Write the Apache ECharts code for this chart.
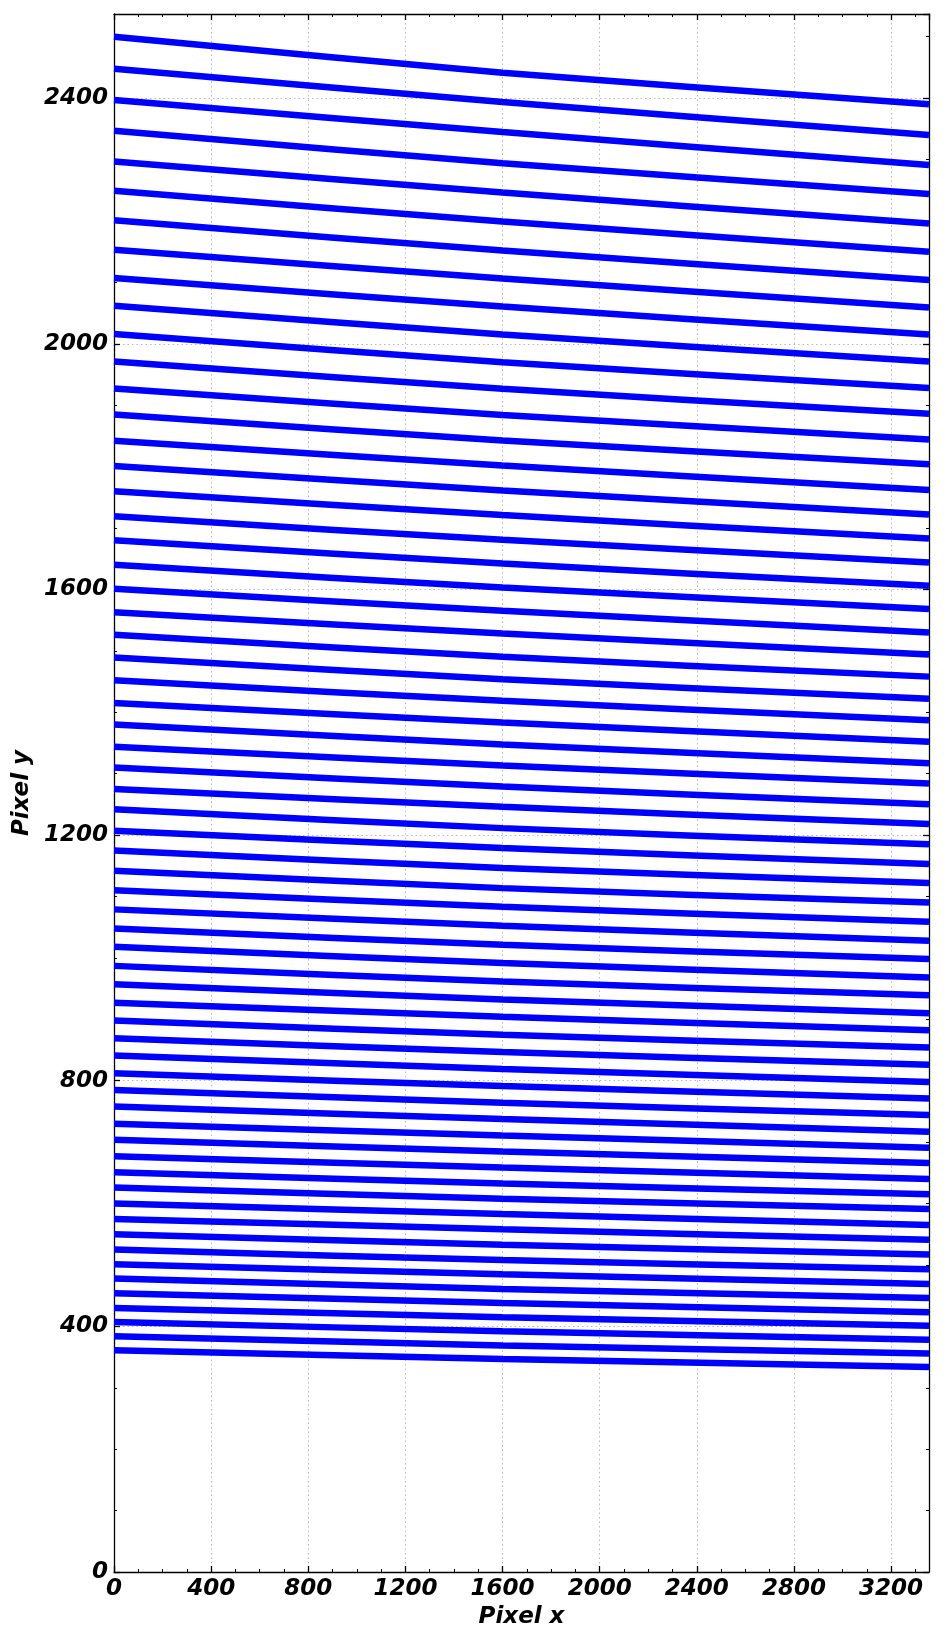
<!DOCTYPE html>
<html>
<head>
<meta charset="utf-8">
<script src="https://cdn.jsdelivr.net/npm/echarts@6/dist/echarts.min.js"></script>
<style>
html,body{margin:0;padding:0;background:#fff;}
#chart{width:944px;height:1638px;}
</style>
</head>
<body>
<div id="chart"></div>
<script>
// x positions (pixel x) at which each trace was read
const traceX = [0, 1600, 3356];
// y at x = 0
const traceStart = [2500, 2448, 2397, 2347, 2297, 2249, 2201, 2153, 2107, 2062, 2016, 1971, 1927, 1885, 1842, 1801, 1760, 1719, 1680, 1640, 1601, 1563, 1526, 1489, 1452, 1415, 1380, 1344, 1310, 1275, 1242, 1207, 1175, 1142, 1110, 1079, 1048, 1018, 987, 957, 927, 898, 869, 841, 812, 785, 758, 730, 704, 677, 651, 626, 600, 575, 550, 525, 501, 478, 454, 430, 407, 384, 361];
// y at x = 1600
const traceMid = [2441.5, 2393.8, 2345, 2294, 2246.2, 2199, 2151.8, 2106.2, 2060.6, 2015, 1970, 1926.6, 1884.2, 1842.4, 1801.7, 1761, 1721, 1680.7, 1642.1, 1603.1, 1565.1, 1528.2, 1490.2, 1453.9, 1418.6, 1383.3, 1347.4, 1313.2, 1279.1, 1246, 1211.3, 1178.8, 1146.2, 1113.6, 1083.2, 1052.3, 1021.3, 991.5, 961.6, 932.3, 904.1, 874.8, 846.6, 819, 791.3, 764.1, 737.5, 710.8, 684.8, 658.7, 632.7, 607.8, 582.9, 558, 533, 508, 485, 461, 438, 415, 392, 369, 347];
// y at x = 3356
const traceEnd = [2390, 2340, 2291, 2244, 2196, 2150, 2104, 2059, 2015, 1971, 1928, 1886, 1844, 1804, 1762, 1722, 1683, 1644, 1606, 1568, 1530, 1494, 1458, 1422, 1387, 1352, 1317, 1284, 1250, 1218, 1185, 1153, 1122, 1090, 1059, 1028, 998, 968, 939, 910, 882, 854, 826, 798, 771, 744, 717, 691, 666, 640, 615, 591, 565, 541, 517, 493, 469, 446, 423, 401, 378, 356, 334];

const xTickLabels = ['0', '400', '800', '1200', '1600', '2000', '2400', '2800', '3200'];
const yTickLabels = ['0', '400', '800', '1200', '1600', '2000', '2400'];
const xLabelName = 'Pixel x';
const yLabelName = 'Pixel y';
const xMax = 3356;
const yMax = 2537;

const font = {fontFamily: 'DejaVu Sans', fontWeight: 'bold', fontStyle: 'italic', fontSize: 23, color: '#000'};

function majorAxis(pos, max, isMain, labels) {
  return {
    type: 'value', position: pos, min: 0, max: max, interval: 400,
    axisLine: {show: true, onZero: false, lineStyle: {color: '#000', width: 1.3}},
    axisTick: {show: true, inside: true, length: 6, lineStyle: {color: '#000', width: 1.3}},
    axisLabel: isMain ? Object.assign({
      show: true, margin: 6, showMaxLabel: false,
      formatter: function (v) { const s = String(Math.round(v)); return labels.indexOf(s) >= 0 ? s : ''; }
    }, font) : {show: false},
    splitLine: isMain ? {show: true, lineStyle: {color: '#b8b8b8', width: 1, type: [1.5, 3]}} : {show: false},
    minorTick: {show: false}
  };
}
function minorAxis(pos, max) {
  return {
    type: 'value', position: pos, min: 0, max: max, interval: 100,
    axisLine: {show: false, onZero: false},
    axisTick: {show: true, inside: true, length: 3, lineStyle: {color: '#000', width: 1}},
    axisLabel: {show: false},
    splitLine: {show: false}
  };
}

const xAxes = [
  Object.assign(majorAxis('bottom', xMax, true, xTickLabels), {
    name: xLabelName, nameLocation: 'middle', nameGap: 32,
    nameTextStyle: Object.assign({verticalAlign: 'top'}, font)
  }),
  minorAxis('bottom', xMax),
  majorAxis('top', xMax, false),
  minorAxis('top', xMax)
];
const yAxes = [
  Object.assign(majorAxis('left', yMax, true, yTickLabels), {
    name: yLabelName, nameLocation: 'middle', nameGap: 79, nameTextStyle: font
  }),
  minorAxis('left', yMax),
  majorAxis('right', yMax, false),
  minorAxis('right', yMax)
];

const series = traceStart.map(function (s, i) {
  const ys = [s, traceMid[i], traceEnd[i]];
  return {
    type: 'line', xAxisIndex: 0, yAxisIndex: 0,
    data: traceX.map(function (x, j) { return [x, ys[j]]; }),
    showSymbol: false, symbol: 'none', smooth: 0.3,
    lineStyle: {color: '#0000ff', width: 6.5},
    itemStyle: {color: '#0000ff'},
    silent: true, clip: true, z: 3
  };
});

const chart = echarts.init(document.getElementById('chart'), null, {renderer: 'canvas'});
chart.setOption({
  animation: false,
  backgroundColor: '#ffffff',
  grid: {left: 114, right: 15, top: 14, bottom: 66, containLabel: false, outerBoundsMode: 'none'},
  xAxis: xAxes,
  yAxis: yAxes,
  series: series
});
</script>
</body>
</html>
